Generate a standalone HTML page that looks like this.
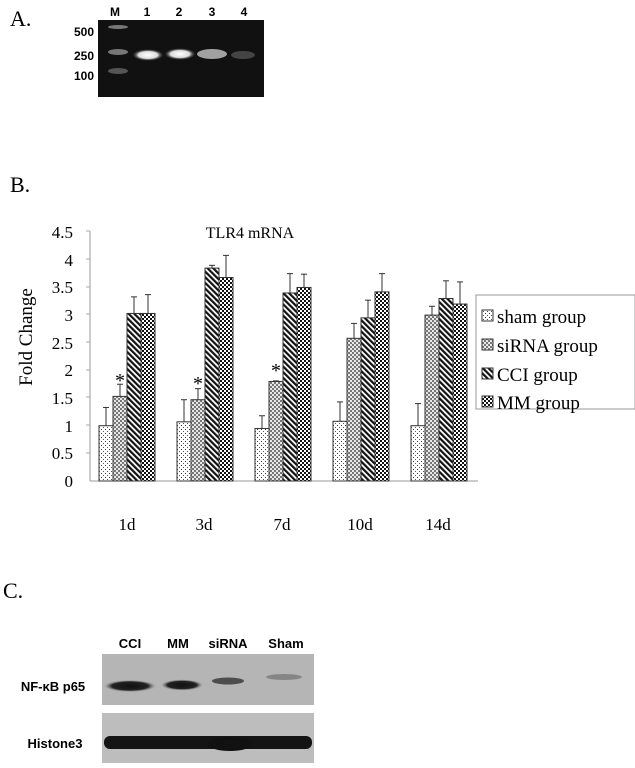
<!DOCTYPE html>
<html><head><meta charset="utf-8"><style>
body{margin:0;background:#fff;}
svg{display:block;}
</style></head><body>
<svg width="635" height="768" xmlns="http://www.w3.org/2000/svg">
<defs>
<pattern id="pS" width="4" height="4" patternUnits="userSpaceOnUse"><rect width="4" height="4" fill="#fff"/><rect x="1" y="1" width="1" height="1" fill="#333"/><rect x="3" y="3" width="1" height="1" fill="#555"/></pattern>
<pattern id="pR" width="4" height="4" patternUnits="userSpaceOnUse"><rect width="4" height="4" fill="#e8e8e8"/><rect x="0" y="0" width="2" height="2" fill="#777"/><rect x="2" y="2" width="2" height="2" fill="#777"/></pattern>
<pattern id="pC" width="4" height="4" patternUnits="userSpaceOnUse" patternTransform="rotate(-45)"><rect width="4" height="4" fill="#fff"/><rect width="2.2" height="4" fill="#111"/></pattern>
<pattern id="pM" width="4" height="4" patternUnits="userSpaceOnUse"><rect width="4" height="4" fill="#fff"/><rect x="0" y="0" width="2" height="2" fill="#111"/><rect x="2" y="2" width="2" height="2" fill="#111"/></pattern>
<radialGradient id="band"><stop offset="0" stop-color="#fff"/><stop offset="0.6" stop-color="#ddd"/><stop offset="1" stop-color="#222" stop-opacity="0"/></radialGradient>
<radialGradient id="dband"><stop offset="0" stop-color="#111"/><stop offset="0.7" stop-color="#222"/><stop offset="1" stop-color="#888" stop-opacity="0"/></radialGradient>
</defs>
<!-- A -->
<text x="10" y="26" font-family="Liberation Serif" font-size="22">A.</text>
<g font-family="Liberation Sans" font-weight="bold" font-size="12" text-anchor="middle">
<text x="115" y="16">M</text><text x="147" y="16">1</text><text x="179" y="16">2</text><text x="212" y="16">3</text><text x="244" y="16">4</text>
<text x="84" y="36">500</text><text x="84" y="60">250</text><text x="84" y="80">100</text>
</g>
<rect x="98" y="20" width="166" height="77" fill="#111"/>
<ellipse cx="118" cy="27" rx="10" ry="2" fill="#777"/>
<ellipse cx="118" cy="52" rx="10" ry="3" fill="#777"/>
<ellipse cx="118" cy="71" rx="10" ry="3" fill="#555"/>
<ellipse cx="148" cy="55" rx="16" ry="6" fill="url(#band)"/>
<ellipse cx="180" cy="54" rx="16" ry="6" fill="url(#band)"/>
<ellipse cx="212" cy="54" rx="15" ry="5" fill="#bbb" opacity="0.85"/>
<ellipse cx="243" cy="55" rx="12" ry="4" fill="#444"/>
<!-- B -->
<text x="10" y="192" font-family="Liberation Serif" font-size="22">B.</text>
<text x="250" y="238" font-family="Liberation Serif" font-size="16" text-anchor="middle">TLR4 mRNA</text>
<text transform="translate(32,337) rotate(-90)" font-family="Liberation Serif" font-size="19" text-anchor="middle">Fold Change</text>
<g stroke="#999" stroke-width="1">
<line x1="90" y1="231" x2="90" y2="481"/>
<line x1="90" y1="481" x2="478" y2="481"/>
</g>
<g font-family="Liberation Serif" font-size="17" text-anchor="end">
<text x="73" y="487">0</text><text x="73" y="459">0.5</text><text x="73" y="432">1</text><text x="73" y="404">1.5</text><text x="73" y="376">2</text><text x="73" y="349">2.5</text><text x="73" y="321">3</text><text x="73" y="293">3.5</text><text x="73" y="266">4</text><text x="73" y="238">4.5</text>
</g>
<g stroke="#aaa"><line x1="86" y1="231" x2="90" y2="231"/><line x1="86" y1="259" x2="90" y2="259"/><line x1="86" y1="287" x2="90" y2="287"/><line x1="86" y1="314" x2="90" y2="314"/><line x1="86" y1="342" x2="90" y2="342"/><line x1="86" y1="370" x2="90" y2="370"/><line x1="86" y1="397" x2="90" y2="397"/><line x1="86" y1="425" x2="90" y2="425"/><line x1="86" y1="453" x2="90" y2="453"/></g>
<g font-family="Liberation Serif" font-size="17" text-anchor="middle">
<text x="127" y="530">1d</text><text x="204" y="530">3d</text><text x="282" y="530">7d</text><text x="360" y="530">10d</text><text x="438" y="530">14d</text>
</g>
<g id="bars" stroke="#333" stroke-width="1"></g>
<g font-family="Liberation Serif" font-size="20" text-anchor="middle">
<text x="120" y="387">*</text><text x="198" y="390">*</text><text x="276" y="377">*</text>
</g>
<!-- legend -->
<rect x="476" y="295" width="159" height="114" fill="#fff" stroke="#999"/>
<g stroke="#333">
<rect x="482" y="310" width="11" height="11" fill="url(#pS)"/>
<rect x="482" y="339" width="11" height="11" fill="url(#pR)"/>
<rect x="482" y="368" width="11" height="11" fill="url(#pC)"/>
<rect x="482" y="396" width="11" height="11" fill="url(#pM)"/>
</g>
<g font-family="Liberation Serif" font-size="19">
<text x="497" y="323">sham group</text><text x="497" y="352">siRNA group</text><text x="497" y="381">CCI group</text><text x="497" y="409">MM group</text>
</g>
<!-- C -->
<text x="3" y="598" font-family="Liberation Serif" font-size="22">C.</text>
<g font-family="Liberation Sans" font-weight="bold" font-size="13" text-anchor="middle">
<text x="130" y="648">CCI</text><text x="178" y="648">MM</text><text x="228" y="648">siRNA</text><text x="286" y="648">Sham</text>
<text x="53" y="691">NF-κB p65</text><text x="55" y="748">Histone3</text>
</g>
<rect x="102" y="654" width="212" height="51" fill="#b5b5b5"/>
<rect x="102" y="713" width="212" height="50" fill="#bdbdbd"/>
<ellipse cx="130" cy="686" rx="26" ry="6" fill="url(#dband)"/>
<ellipse cx="182" cy="685" rx="21" ry="5.5" fill="url(#dband)"/>
<ellipse cx="228" cy="681" rx="16" ry="3.5" fill="#333" opacity="0.8"/>
<ellipse cx="284" cy="677" rx="18" ry="3" fill="#666" opacity="0.6"/>
<rect x="104" y="736" width="208" height="13" rx="6" fill="#141414"/>
<ellipse cx="230" cy="744" rx="22" ry="7" fill="#111"/>
</svg>
<script>
var v=[[1.0,1.33,1.53,1.75,3.03,3.33,3.03,3.37],[1.07,1.47,1.47,1.67,3.85,3.9,3.68,4.08],[0.95,1.18,1.8,1.81,3.4,3.75,3.5,3.74],[1.08,1.43,2.58,2.85,2.95,3.27,3.42,3.75],[1.0,1.4,3.0,3.16,3.3,3.62,3.2,3.6]];
var f=["url(#pS)","url(#pR)","url(#pC)","url(#pM)"];
var s="",k=55.3,b=481;
for(var g=0;g<5;g++){for(var i=0;i<4;i++){var x=99+g*78+i*14,h=v[g][i*2]*k,e=b-v[g][i*2+1]*k,t=b-h;
s+='<rect x="'+x+'" y="'+t+'" width="14" height="'+h+'" fill="'+f[i]+'"/>';
s+='<line x1="'+(x+7)+'" y1="'+t+'" x2="'+(x+7)+'" y2="'+e+'" stroke="#333"/><line x1="'+(x+4)+'" y1="'+e+'" x2="'+(x+10)+'" y2="'+e+'" stroke="#333"/>';}}
document.getElementById("bars").innerHTML=s;
</script>
</body></html>
